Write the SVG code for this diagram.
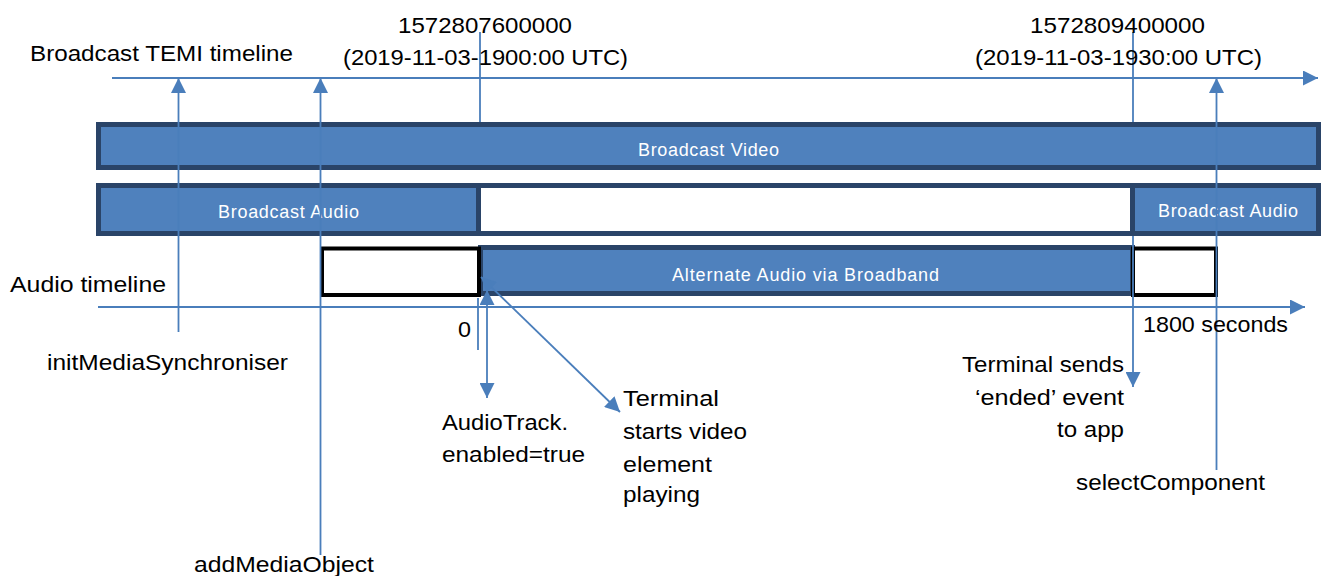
<svg xmlns="http://www.w3.org/2000/svg" width="1325" height="576" viewBox="0 0 1325 576">
<defs>
<style>
.bar{fill:#4f81bd;stroke:#2a4468;stroke-width:5}
.gap{fill:#ffffff;stroke:#2a4468;stroke-width:5}
.box{fill:#ffffff;stroke:#000000;stroke-width:4}
.ln{fill:none;stroke:#4a7ebb;stroke-width:1.8}
.t{font-family:"Liberation Sans",Arial,sans-serif;font-size:22px;fill:#000000}
.w{font-family:"Liberation Sans",Arial,sans-serif;font-size:18px;fill:#ffffff}
</style>
<marker id="ah" viewBox="0 0 15 15" refX="15" refY="7.5" markerWidth="15" markerHeight="15" markerUnits="userSpaceOnUse" orient="auto-start-reverse">
<path d="M0,0 L15,7.5 L0,15 z" fill="#4a7ebb"/>
</marker>
</defs>
<rect width="1325" height="576" fill="#ffffff"/>

<g id="broadcast-video">
<rect class="bar" x="98.5" y="124.5" width="1220" height="43"/>
<text class="w" x="638" y="156" textLength="141">Broadcast Video</text>
</g>

<g id="audio-row">
<rect class="gap" x="98.5" y="185.5" width="1220" height="48"/>
</g>
<g id="broadcast-audio-1">
<rect class="bar" x="98.5" y="185.5" width="380" height="48"/>
<text class="w" x="218" y="218" textLength="141">Broadcast Audio</text>
</g>
<g id="broadcast-audio-2">
<rect class="bar" x="1132.5" y="185.5" width="186" height="48"/>
<text class="w" x="1158" y="217" textLength="140">Broadcast Audio</text>
</g>

<g id="alternate-audio">
<rect class="bar" x="480.5" y="247.5" width="652" height="46"/>
<text class="w" x="672" y="281" textLength="267">Alternate Audio via Broadband</text>
</g>
<g id="pre-box">
<rect class="box" x="322" y="248.5" width="157" height="46.5"/>
</g>
<g id="post-box">
<rect class="box" x="1133" y="248.5" width="83" height="46.5"/>
</g>

<g id="connectors">
<line class="ln" x1="112" y1="78" x2="1318" y2="78" marker-end="url(#ah)"/>
<line class="ln" x1="98" y1="307" x2="1305" y2="307" marker-end="url(#ah)"/>
<line class="ln" x1="178.5" y1="332" x2="178.5" y2="78" marker-end="url(#ah)"/>
<line class="ln" x1="320.5" y1="555" x2="320.5" y2="78" marker-end="url(#ah)"/>
<line class="ln" x1="1216.5" y1="470" x2="1216.5" y2="78" marker-end="url(#ah)"/>
<line class="ln" x1="480" y1="32" x2="480" y2="122"/>
<line class="ln" x1="1133" y1="32" x2="1133" y2="122"/>
<line class="ln" x1="478" y1="298" x2="478" y2="350"/>
<line class="ln" x1="1133" y1="236" x2="1133" y2="387" marker-end="url(#ah)"/>
<line class="ln" x1="487" y1="290" x2="487" y2="398" marker-start="url(#ah)" marker-end="url(#ah)"/>
<line class="ln" x1="481" y1="277" x2="620" y2="412" marker-start="url(#ah)" marker-end="url(#ah)"/>
</g>

<g id="labels">
<text class="t" x="30" y="61" textLength="263" lengthAdjust="spacingAndGlyphs">Broadcast TEMI timeline</text>
<text class="t" x="398" y="33" textLength="174" lengthAdjust="spacingAndGlyphs">1572807600000</text>
<text class="t" x="343" y="65" textLength="285" lengthAdjust="spacingAndGlyphs">(2019-11-03-1900:00 UTC)</text>
<text class="t" x="1030" y="33" textLength="175" lengthAdjust="spacingAndGlyphs">1572809400000</text>
<text class="t" x="975" y="65" textLength="287" lengthAdjust="spacingAndGlyphs">(2019-11-03-1930:00 UTC)</text>
<text class="t" x="10" y="292" textLength="156" lengthAdjust="spacingAndGlyphs">Audio timeline</text>
<text class="t" x="458" y="337" textLength="13" lengthAdjust="spacingAndGlyphs">0</text>
<text class="t" x="1143" y="332" textLength="145" lengthAdjust="spacingAndGlyphs">1800 seconds</text>
<text class="t" x="47" y="370" textLength="241" lengthAdjust="spacingAndGlyphs">initMediaSynchroniser</text>
<text class="t" x="194" y="572" textLength="180" lengthAdjust="spacingAndGlyphs">addMediaObject</text>
<text class="t" x="442" y="430" textLength="126" lengthAdjust="spacingAndGlyphs">AudioTrack.</text>
<text class="t" x="442" y="462" textLength="143" lengthAdjust="spacingAndGlyphs">enabled=true</text>
<text class="t" x="623" y="406" textLength="96" lengthAdjust="spacingAndGlyphs">Terminal</text>
<text class="t" x="623" y="439" textLength="124" lengthAdjust="spacingAndGlyphs">starts video</text>
<text class="t" x="623" y="472" textLength="89" lengthAdjust="spacingAndGlyphs">element</text>
<text class="t" x="623" y="502" textLength="77" lengthAdjust="spacingAndGlyphs">playing</text>
<text class="t" x="962" y="372" textLength="162" lengthAdjust="spacingAndGlyphs">Terminal sends</text>
<text class="t" x="975" y="405" textLength="149" lengthAdjust="spacingAndGlyphs">‘ended’ event</text>
<text class="t" x="1057" y="437" textLength="67" lengthAdjust="spacingAndGlyphs">to app</text>
<text class="t" x="1076" y="490" textLength="189" lengthAdjust="spacingAndGlyphs">selectComponent</text>
</g>
</svg>
